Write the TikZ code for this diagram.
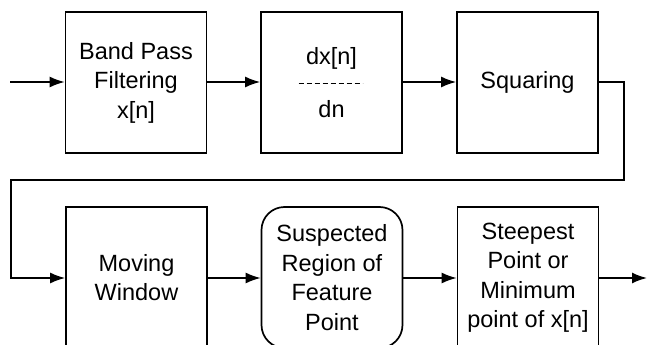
\documentclass[tikz,border=0pt]{standalone}
\usepackage{fontspec}
\setmainfont{Liberation Sans}
\usetikzlibrary{arrows.meta}
\begin{document}
\begin{tikzpicture}[x=1pt,y=-1pt,
  blockbox/.style={draw, line width=1.7pt, minimum width=141pt, minimum height=141pt,
    inner sep=0pt, align=center, font=\fontsize{23.5}{29.5}\selectfont},
  roundbox/.style={blockbox, rounded corners=23pt},
  flow/.style={line width=1.7pt, -{Latex[length=15pt,width=11pt]}},
  wire/.style={line width=1.7pt}]
  \useasboundingbox (0,0) rectangle (648,345);
  \clip (0,0) rectangle (648,345);

  % top row
  \node[blockbox] (bpf) at (136,82.5) {Band Pass\\Filtering\\x[n]};
  \node[blockbox] (diff) at (331.5,82.5) {dx[n]\\[24pt]dn};
  \node[blockbox] (sq) at (527.5,82.5) {Squaring};
  \draw[line width=1.4pt, dash pattern=on 5pt off 3pt]
    ([xshift=-33pt,yshift=-1pt]diff.center) -- ([xshift=31pt,yshift=-1pt]diff.center);

  % bottom row
  \node[blockbox] (mw) at (136.5,277.5) {Moving\\Window};
  \node[roundbox] (sus) at (332,277.5) {Suspected\\Region of\\Feature\\Point};
  \node[blockbox] (stp) at (528,277.5) {Steepest\\Point or\\Minimum\\point of x[n]};

  % free ends and routing corners
  \coordinate (in) at (10,82);
  \coordinate (out) at (647,278);
  \coordinate (c1) at (624,82);
  \coordinate (c2) at (624,180);
  \coordinate (c3) at (11,180);
  \coordinate (c4) at (11,278);

  \draw[flow] (in) -- (bpf.west |- in);
  \draw[flow] (bpf.east |- in) -- (diff.west |- in);
  \draw[flow] (diff.east |- in) -- (sq.west |- in);
  \draw[flow] (sq.east |- c1) -- (c1) -- (c2) -- (c3) -- (c4) -- (mw.west |- c4);
  \draw[flow] (mw.east |- c4) -- (sus.west |- c4);
  \draw[flow] (sus.east |- c4) -- (stp.west |- c4);
  \draw[flow] (stp.east |- out) -- (out);
\end{tikzpicture}
\end{document}
